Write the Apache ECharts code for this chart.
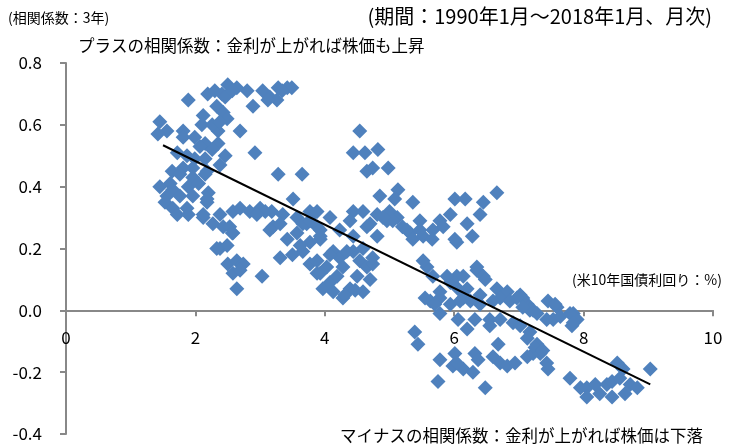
<!DOCTYPE html>
<html><head><meta charset="utf-8">
<script src="https://cdn.jsdelivr.net/npm/echarts@6/dist/echarts.min.js"></script>
<style>html,body{margin:0;padding:0;background:#fff}#c{width:738px;height:444px}</style>
</head><body><div id="c"></div>
<script>
// [US 10y yield %, 3-year correlation]
const upperArc = [[1.45,0.61],[1.56,0.58],[1.42,0.57],[1.81,0.58],[1.81,0.56],[1.99,0.56],[2.15,0.54],[2.35,0.58],[2.35,0.54],[2.07,0.53],[2.26,0.52],[1.89,0.68],[2.19,0.70],[2.30,0.71],[2.50,0.73],[2.41,0.70],[2.64,0.72],[2.80,0.71],[2.89,0.66],[3.04,0.71],[3.15,0.69],[3.28,0.72],[3.42,0.72],[3.49,0.72],[3.26,0.68],[2.33,0.66],[2.43,0.64],[2.12,0.63],[2.10,0.60],[2.26,0.60],[2.49,0.62],[2.38,0.61],[2.69,0.58],[2.92,0.51],[3.28,0.44],[3.65,0.44],[2.46,0.69],[2.57,0.71],[3.12,0.68],[3.34,0.71]];
const leftCluster = [[1.72,0.51],[1.87,0.50],[1.99,0.49],[2.15,0.49],[2.38,0.47],[2.18,0.45],[1.96,0.46],[1.81,0.46],[1.64,0.45],[1.76,0.44],[1.96,0.43],[2.15,0.44],[1.61,0.41],[1.45,0.40],[1.65,0.39],[1.89,0.40],[1.56,0.37],[1.76,0.37],[1.96,0.37],[2.18,0.35],[1.53,0.35],[1.65,0.33],[1.87,0.33],[1.72,0.31],[1.89,0.31],[2.12,0.30],[2.27,0.28],[2.43,0.27],[2.58,0.25],[2.05,0.41],[2.20,0.38],[2.46,0.50]];
const midBand = [[2.18,0.36],[2.12,0.31],[2.38,0.31],[2.58,0.32],[2.69,0.33],[2.84,0.32],[3.00,0.33],[3.18,0.32],[3.20,0.27],[3.35,0.31],[3.51,0.36],[3.57,0.30],[3.72,0.28],[3.82,0.31],[2.53,0.27],[3.15,0.26],[3.31,0.28],[3.66,0.28],[3.77,0.32],[3.88,0.27],[3.08,0.32],[2.95,0.31]];
const lowLeft = [[2.38,0.20],[2.49,0.21],[2.50,0.15],[2.64,0.16],[2.74,0.15],[2.58,0.12],[2.69,0.13],[3.03,0.11],[2.64,0.07],[2.57,0.25],[2.33,0.20]];
const center = [[3.31,0.17],[3.42,0.23],[3.57,0.25],[3.66,0.19],[3.77,0.15],[3.88,0.12],[3.97,0.07],[3.93,0.23],[3.88,0.32],[4.08,0.30],[3.77,0.29],[3.93,0.24],[4.13,0.19],[4.23,0.17],[4.28,0.14],[4.44,0.19],[4.54,0.16],[4.65,0.14],[4.74,0.15],[4.50,0.11],[4.39,0.07],[4.28,0.04],[4.08,0.09],[3.93,0.12],[3.88,0.16],[4.03,0.14],[4.19,0.11],[4.59,0.06],[4.70,0.10],[4.65,0.27],[4.44,0.24],[4.23,0.26],[3.93,0.26],[3.77,0.22],[4.08,0.18],[4.34,0.19],[4.59,0.20],[4.74,0.17],[4.13,0.06],[4.81,0.24],[4.44,0.32],[4.39,0.29],[4.59,0.32],[4.70,0.28],[4.31,0.05],[4.47,0.065],[3.62,0.21],[3.50,0.18]];
const upperMid = [[4.54,0.58],[4.44,0.51],[4.62,0.51],[4.82,0.52],[4.65,0.45],[4.74,0.46],[4.98,0.46],[4.85,0.37],[5.13,0.39],[5.36,0.35],[5.08,0.36],[5.00,0.32],[4.81,0.31],[4.96,0.29],[5.12,0.30],[5.05,0.29],[5.20,0.27],[5.32,0.25],[4.90,0.30]];
const rightMid = [[5.47,0.29],[5.27,0.26],[5.36,0.23],[5.52,0.24],[5.67,0.26],[5.78,0.29],[5.94,0.31],[6.01,0.36],[6.17,0.36],[6.45,0.35],[6.40,0.31],[6.20,0.28],[6.04,0.22],[6.28,0.24],[5.83,0.27],[6.66,0.38],[5.58,0.14],[5.67,0.11],[5.52,0.16],[5.63,0.03],[5.78,0.04],[5.94,0.09],[6.04,0.11],[6.20,0.07],[6.35,0.13],[6.45,0.11],[6.40,0.05],[6.14,0.04],[5.47,0.26],[5.66,0.23],[6.01,0.23],[6.48,0.10],[6.14,0.11],[6.06,0.07],[5.55,0.04],[5.78,0.06],[5.70,0.02],[5.94,0.02],[6.25,0.03],[6.40,0.02],[5.89,0.11],[6.09,0.03]];
const lowerRight = [[6.66,0.07],[6.82,0.06],[7.02,0.05],[7.13,0.02],[7.22,0.00],[7.06,0.04],[7.17,0.00],[7.28,-0.01],[7.59,0.01],[7.53,-0.03],[7.64,-0.02],[7.84,-0.01],[7.82,-0.05],[7.90,-0.03],[6.71,0.04],[6.86,0.03],[6.97,0.04],[7.06,0.01],[7.43,-0.03],[7.79,-0.01],[7.84,-0.04],[6.60,0.03],[6.55,-0.03],[6.71,-0.03],[6.91,-0.04],[7.02,-0.05],[7.45,0.03],[7.56,0.02],[6.35,0.14]];
const negatives = [[5.39,-0.07],[5.44,-0.11],[5.78,-0.16],[5.75,-0.23],[6.01,-0.14],[5.98,-0.18],[6.14,-0.19],[6.32,-0.14],[6.37,-0.16],[6.29,-0.20],[6.48,-0.25],[6.60,-0.15],[6.68,-0.11],[6.71,-0.17],[6.82,-0.18],[6.94,-0.17],[7.13,-0.15],[6.06,-0.03],[6.32,-0.03],[6.55,-0.05],[5.78,-0.01],[7.17,-0.07],[7.28,-0.11],[7.22,-0.14],[7.13,-0.09],[7.25,-0.12],[7.33,-0.14],[7.43,-0.17],[7.45,-0.19],[7.79,-0.22],[7.95,-0.25],[8.05,-0.25],[8.18,-0.24],[8.25,-0.27],[8.36,-0.24],[8.44,-0.23],[8.52,-0.17],[8.61,-0.19],[8.56,-0.22],[8.72,-0.24],[8.83,-0.25],[8.64,-0.27],[9.03,-0.19],[8.05,-0.28],[8.44,-0.28],[7.37,-0.13],[6.04,-0.17],[6.20,-0.06]];

// linear trend
const trendSlope = -0.1027;
const trendIntercept = 0.688;
const trendRange = [1.5, 9.03];

const xTicks = [0, 2, 4, 6, 8, 10];
const yTicks = [-0.4, -0.2, 0.0, 0.2, 0.4, 0.6, 0.8];

const texts = {
  unit: '(相関係数：3年)',
  period: '(期間：1990年1月～2018年1月、月次)',
  plus: 'プラスの相関係数：金利が上がれば株価も上昇',
  xName: '(米10年国債利回り：%)',
  minus: 'マイナスの相関係数：金利が上がれば株価は下落'
};

const allPoints = [].concat(upperArc, leftCluster, midBand, lowLeft, center, upperMid, rightMid, lowerRight, negatives);
const trendData = trendRange.map(x => [x, trendIntercept + trendSlope * x]);

const W = 738, H = 444;
const gridBox = {left: 66, right: 25, top: 63, bottom: 10};
const gridH = H - gridBox.top - gridBox.bottom;
const yMin = yTicks[0], yMax = yTicks[yTicks.length - 1];
// move the x axis up to the y = 0 line
const xAxisOffset = -gridH * (0 - yMin) / (yMax - yMin);

const FONT = '"Noto Sans CJK JP", "Noto Sans", sans-serif';
const chart = echarts.init(document.getElementById('c'), null, {renderer: 'canvas'});
chart.setOption({
  animation: false,
  textStyle: {fontFamily: FONT},
  grid: Object.assign({containLabel: false, outerBoundsMode: 'none'}, gridBox),
  xAxis: {
    type: 'value', min: xTicks[0], max: xTicks[xTicks.length - 1], interval: 2,
    offset: xAxisOffset,
    axisLine: {onZero: false, lineStyle: {color: '#888', width: 2}},
    axisTick: {show: true, length: 6, lineStyle: {color: '#888', width: 2}},
    axisLabel: {margin: 19, fontSize: 17, color: '#000', fontFamily: FONT},
    splitLine: {show: false}
  },
  yAxis: {
    type: 'value', min: yMin, max: yMax, interval: 0.2,
    axisLine: {show: true, onZero: false, lineStyle: {color: '#888', width: 2}},
    axisTick: {show: true, length: 6, lineStyle: {color: '#888', width: 2}},
    axisLabel: {margin: 24, fontSize: 17, color: '#000', fontFamily: FONT,
      formatter: v => v.toFixed(1)},
    splitLine: {show: false}
  },
  series: [
    {type: 'scatter', data: allPoints, symbol: 'diamond', symbolSize: 15,
     itemStyle: {color: '#4F81BD', opacity: 1}, z: 2},
    {type: 'line', data: trendData, showSymbol: false, symbol: 'none',
     lineStyle: {color: '#000', width: 2}, z: 3}
  ],
  graphic: [
    {type: 'text', left: 8, top: 11, style: {text: texts.unit, fill: '#000', font: '14px ' + FONT}},
    {type: 'text', right: 26, top: 6, style: {text: texts.period, fill: '#000', font: '20px ' + FONT}},
    {type: 'text', left: 78, top: 37, style: {text: texts.plus, fill: '#000', font: '16.5px ' + FONT}},
    {type: 'text', right: 16, top: 273, style: {text: texts.xName, fill: '#000', font: '14px ' + FONT}},
    {type: 'text', left: 340, top: 427, style: {text: texts.minus, fill: '#000', font: '16.5px ' + FONT}}
  ]
});
</script></body></html>
